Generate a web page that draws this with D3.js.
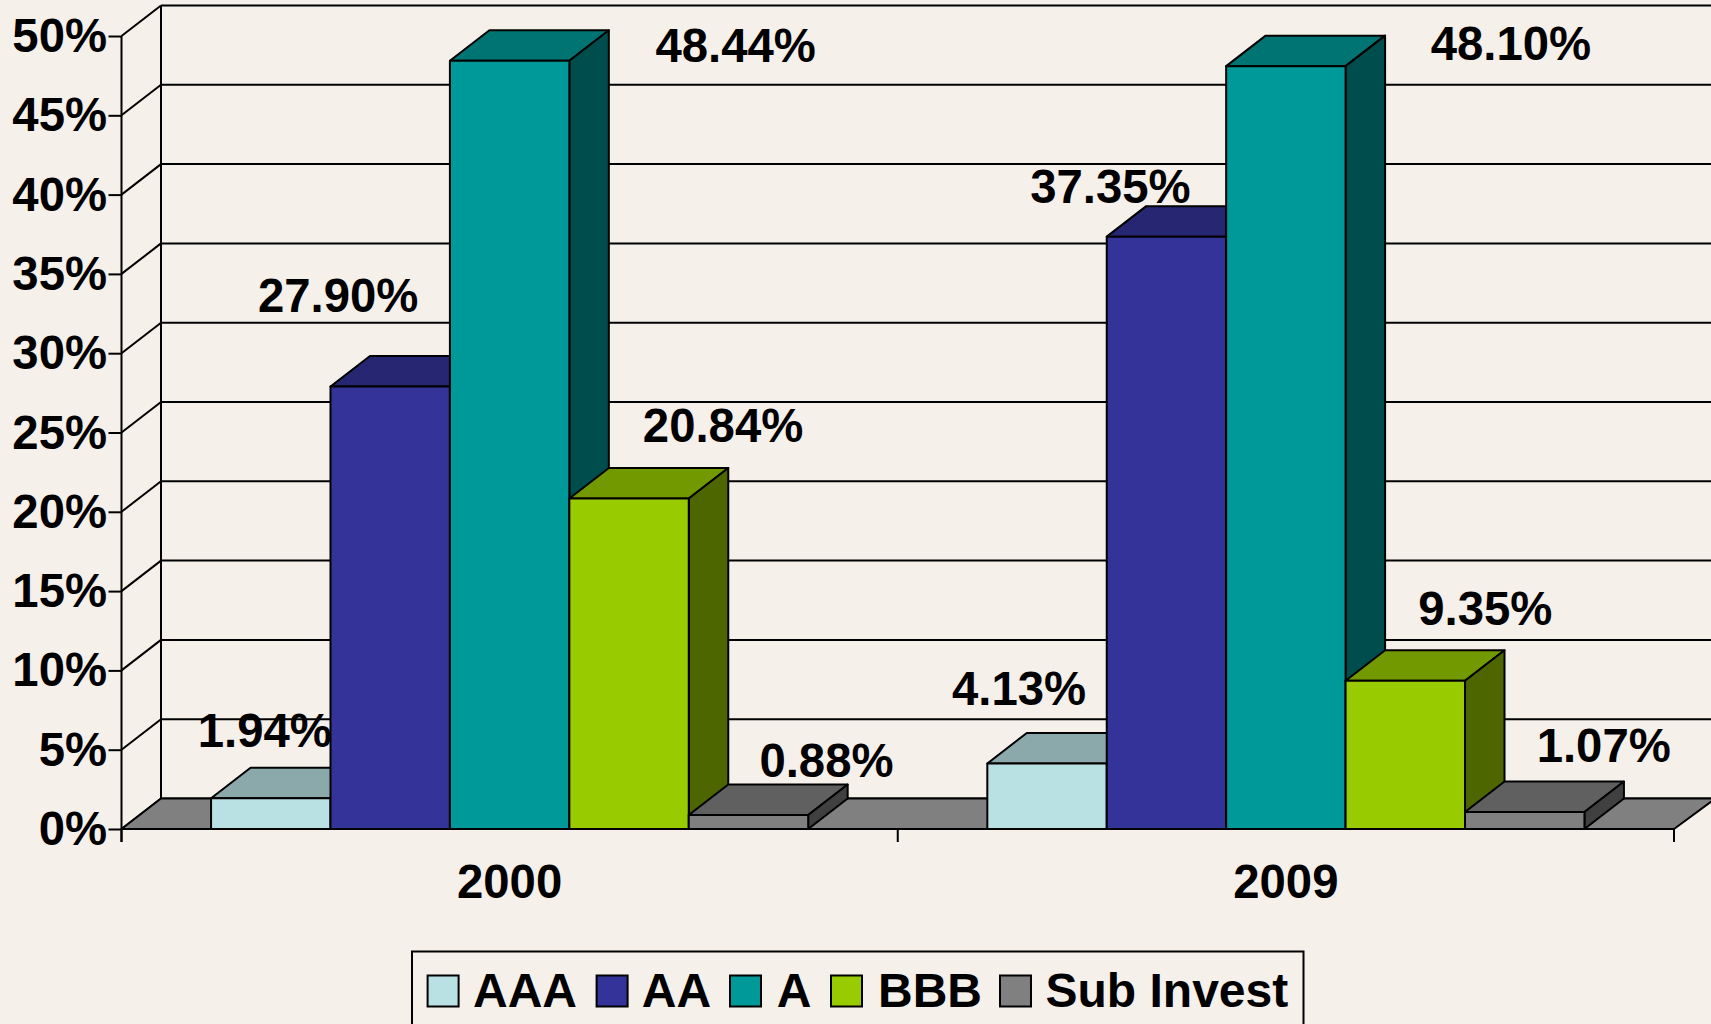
<!DOCTYPE html>
<html>
<head>
<meta charset="utf-8">
<script src="https://cdnjs.cloudflare.com/ajax/libs/d3/7.8.5/d3.min.js"></script>
<style>
html,body{margin:0;padding:0;background:#F5F0EA;overflow:hidden}
svg{display:block}
text{font-family:"Liberation Sans",Arial,sans-serif;font-weight:700;fill:#000}
</style>
</head>
<body>
<svg id="c" width="1711" height="1024"></svg>
<script>
const years = ["2000", "2009"];
const ratings = ["AAA", "AA", "A", "BBB", "Sub Invest"];
const values2000 = [1.94, 27.90, 48.44, 20.84, 0.88];
const values2009 = [4.13, 37.35, 48.10, 9.35, 1.07];
const yTicks = [0, 5, 10, 15, 20, 25, 30, 35, 40, 45, 50];
const frontColors = ["#B9E0E3", "#333399", "#009999", "#99CC00", "#808080"];
const topColors = ["#8BA8AA", "#262673", "#007373", "#739900", "#606060"];
const sideColors = ["#5D7072", "#1A1A4D", "#004D4D", "#4D6600", "#404040"];
const labelDx2000 = [-6, -52, 226, 94, 78];
const labelDy2000 = [-51, -74.5, 1, -56.5, -38];
const labelDx2009 = [-28, -56, 225, 80, 79];
const labelDy2009 = [-58.5, -33.6, -6, -56, -49.7];
const legendSwatchX = [427.6, 596.6, 730, 831, 1000];
const legendTextX = [473, 641.8, 776.8, 878, 1045.5];

const svg = d3.select("#c");
const L = 121.5, R = 1674, Y0 = 829, Y50 = 36, DX = 39.5, DY = -30.5, FS = 47.3, LFS = 48, SW = 2;
const bg = "#F5F0EA";
svg.append("rect").attr("width", 1711).attr("height", 1024).attr("fill", bg);

const y = d3.scaleLinear().domain([0, 50]).range([Y0, Y50]);
const x0 = d3.scaleBand().domain(years).range([L, R]).padding(0);
const x1 = d3.scaleBand().domain(ratings).range([0, x0.bandwidth()]).paddingInner(0).paddingOuter(0.75);

const line = (g, x1_, y1_, x2_, y2_) => g.append("line")
  .attr("x1", x1_).attr("y1", y1_).attr("x2", x2_).attr("y2", y2_)
  .attr("stroke", "#000").attr("stroke-width", SW);
const poly = (g, pts, fill) => g.append("polygon")
  .attr("points", pts.map(p => p.join(",")).join(" "))
  .attr("fill", fill).attr("stroke", "#000").attr("stroke-width", SW).attr("stroke-linejoin", "round");

// Walls and gridlines
const wall = svg.append("g");
yTicks.forEach(t => {
  const yy = y(t);
  line(wall, L, yy, L + DX, yy + DY);
  line(wall, L + DX, yy + DY, 1720, yy + DY);
});
line(wall, L + DX, y(50) + DY, L + DX, y(0) + DY);

// Floor
poly(wall, [[L, Y0], [L + DX, Y0 + DY], [R + DX + 2, Y0 + DY], [R, Y0]], "#808080");

// Axes
const yAxis = d3.axisLeft(y).tickValues(yTicks).tickFormat(d => d + "%").tickSize(13).tickPadding(1.5);
const yg = svg.append("g").attr("transform", `translate(${L},0)`).call(yAxis);
yg.select(".domain").remove();
yg.selectAll("line").attr("stroke", "#000").attr("stroke-width", SW);
yg.selectAll("text").attr("font-size", FS).attr("dy", null).attr("y", 15.5).attr("fill", "#000");
line(svg, L, Y50, L, Y0 + 13);

// Bars
const bars = svg.append("g");
const data = [];
years.forEach((yr, gi) => {
  const vals = gi === 0 ? values2000 : values2009;
  const ldx = gi === 0 ? labelDx2000 : labelDx2009;
  const ldy = gi === 0 ? labelDy2000 : labelDy2009;
  ratings.forEach((r, si) => data.push({yr, r, si, v: vals[si], ldx: ldx[si], ldy: ldy[si]}));
});
data.forEach(d => {
  const a = x0(d.yr) + x1(d.r), b = a + x1.bandwidth(), t = y(d.v);
  poly(bars, [[a, t], [a + DX, t + DY], [b + DX, t + DY], [b, t]], topColors[d.si]);
  poly(bars, [[b, t], [b + DX, t + DY], [b + DX, Y0 + DY], [b, Y0]], sideColors[d.si]);
  poly(bars, [[a, t], [b, t], [b, Y0], [a, Y0]], frontColors[d.si]);
});

// X axis
line(svg, L, Y0, R, Y0);
const xAxis = d3.axisBottom(x0).tickSize(0).tickPadding(0);
const xg = svg.append("g").attr("transform", `translate(0,${Y0})`).call(xAxis);
xg.select(".domain").remove();
xg.selectAll("text").attr("font-size", FS).attr("dy", null).attr("y", 69).attr("fill", "#000");
[x0(years[0]), x0(years[1]), R].forEach(px => line(svg, px, Y0, px, Y0 + 13));

// Value labels
svg.append("g").selectAll("text").data(data).join("text")
  .attr("x", d => x0(d.yr) + x1(d.r) + x1.bandwidth() / 2 + d.ldx)
  .attr("y", d => y(d.v) + d.ldy)
  .attr("text-anchor", "middle")
  .attr("font-size", FS)
  .text(d => d.v.toFixed(2) + "%");

// Legend
const lg = svg.append("g");
lg.append("rect").attr("x", 412).attr("y", 951.5).attr("width", 891.5).attr("height", 90)
  .attr("fill", bg).attr("stroke", "#000").attr("stroke-width", SW);
ratings.forEach((r, i) => {
  lg.append("rect").attr("x", legendSwatchX[i]).attr("y", 975.5).attr("width", 31).attr("height", 31)
    .attr("fill", frontColors[i]).attr("stroke", "#000").attr("stroke-width", SW);
  lg.append("text").attr("x", legendTextX[i]).attr("y", 1007).attr("font-size", LFS).text(r);
});
</script>
</body>
</html>
